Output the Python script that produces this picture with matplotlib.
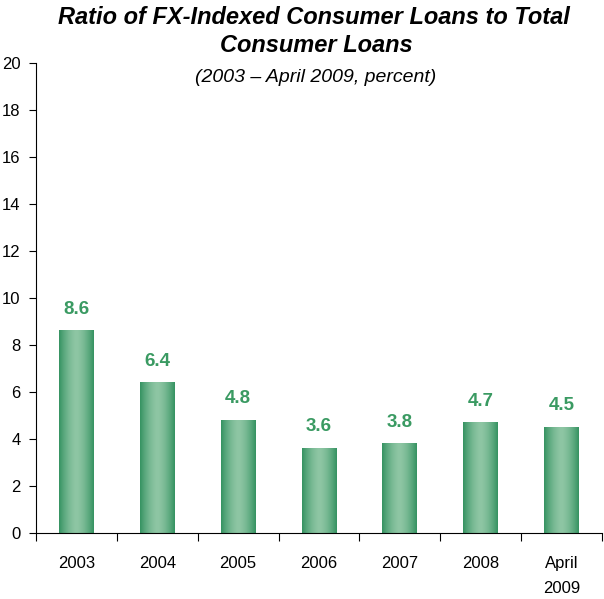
import matplotlib.pyplot as plt
import numpy as np

plt.rcParams['font.family'] = ['Liberation Sans', 'DejaVu Sans']

# dados do gráfico
categorias = ['2003', '2004', '2005', '2006', '2007', '2008', 'April\n2009']
valores = [8.6, 6.4, 4.8, 3.6, 3.8, 4.7, 4.5]
yticks = [0, 2, 4, 6, 8, 10, 12, 14, 16, 18, 20]

verde_escuro = np.array([0x36, 0x93, 0x62]) / 255
verde_claro = np.array([0x8e, 0xc6, 0xa4]) / 255
cor_rotulo = '#3a9a62'

fig = plt.figure(figsize=(6.04, 5.99), dpi=100)
ax = fig.add_axes([0.0596, 0.1097, 0.937, 0.785])

# gradiente horizontal: escuro nas bordas, claro no centro
t = np.linspace(-1, 1, 64)
peso = 1 - np.abs(t) ** 1.6
grad = verde_escuro[None, :] + (verde_claro - verde_escuro)[None, :] * peso[:, None]
grad = grad[None, :, :]

largura = 0.43
x = np.arange(len(categorias))
barras = ax.bar(x, valores, width=largura, color='none', edgecolor='none')
for b, v in zip(barras, valores):
    x0 = b.get_x()
    ax.imshow(grad, extent=[x0, x0 + largura, 0, v], aspect='auto',
              interpolation='bilinear', zorder=2)
    ax.annotate(f'{v:.1f}', (b.get_x() + largura / 2, v), xytext=(0, 9.5),
                textcoords='offset points', ha='center', va='bottom',
                fontsize=13.5, fontweight='bold', color=cor_rotulo)

ax.set_xlim(-0.5, len(categorias) - 0.5)
ax.set_ylim(0, 20)
ax.set_yticks(yticks)
ax.set_xticks(np.arange(len(categorias) + 1) - 0.5)
ax.set_xticklabels([])
ax.set_xticks(x, minor=True)
ax.set_xticklabels(categorias, minor=True, fontsize=12, linespacing=1.9)
ax.tick_params(axis='x', which='minor', length=0, pad=16)
ax.tick_params(axis='x', which='major', length=6, direction='out', width=0.8)
ax.tick_params(axis='y', length=5, direction='out', labelsize=12, width=0.8, pad=6)

for s in ['top', 'right']:
    ax.spines[s].set_visible(False)

fig.text(314 / 604, 1 - 18 / 599, 'Ratio of FX-Indexed Consumer Loans to Total',
         ha='center', va='center', fontsize=17, fontweight='bold', style='italic')
fig.text(316 / 604, 1 - 46 / 599, 'Consumer Loans',
         ha='center', va='center', fontsize=17, fontweight='bold', style='italic')
fig.text(316 / 604, 1 - 77 / 599, '(2003 \u2013 April 2009, percent)', ha='center',
         va='center', fontsize=14, style='italic')

fig.savefig('out.png', dpi=100)
